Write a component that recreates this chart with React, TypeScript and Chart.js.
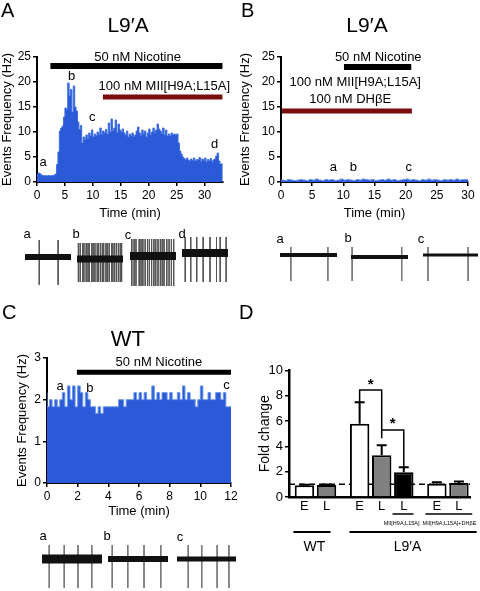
import React, { useEffect, useRef } from "react";
import { Chart, registerables } from "chart.js";
Chart.register(...registerables);

const FONT = "'Liberation Sans', Arial, Helvetica, sans-serif";
Chart.defaults.font.family = FONT;
Chart.defaults.color = "#000";

// ---------------- Panel A data (events frequency, Hz, 0.25-min bins)
const binA = 0.25;
const histA = [
  1.2, 1.6, 1.8, 1.6, 1.3, 1.3, 1.2, 1.3, 1.2, 1.3, 1.2, 1.3, 1.2, 1.4, 1.6, 3.5,
  6.0, 10.2, 10.8, 11.2, 13.0, 14.8, 14.5, 19.8, 17.2, 18.5, 14.0, 19.2, 15.0, 14.2, 12.0, 10.5,
  11.3, 7.8, 9.0, 8.5, 9.4, 8.6, 9.8, 9.2, 10.4, 9.0, 9.6, 9.2, 10.0, 9.4, 10.8, 9.5,
  10.2, 9.8, 10.5, 9.6, 11.8, 10.0, 12.6, 10.2, 10.8, 12.4, 9.9, 11.6, 10.4, 10.0, 10.6, 9.8,
  9.4, 10.2, 9.0, 9.6, 9.2, 9.8, 9.0, 9.4, 10.2, 11.0, 9.8, 9.2, 10.4, 9.6, 10.2, 9.0,
  9.8, 10.6, 9.4, 10.0, 10.8, 9.8, 10.4, 11.6, 10.6, 10.2, 9.6, 10.8, 9.4, 10.4, 9.2, 9.6,
  9.2, 9.8, 9.4, 9.6, 9.4, 9.6, 7.8, 6.2, 5.6, 5.0, 4.7, 4.4, 4.8, 4.4, 4.2, 4.6,
  4.3, 4.8, 4.2, 4.5, 4.4, 4.9, 4.1, 4.6, 4.3, 4.8, 4.0, 4.5, 4.2, 4.7, 4.0, 4.4,
  4.6, 5.2, 5.8, 4.2, 3.6,
];
const nicotineA = [2.4, 33.2];
const miiA = [11.8, 33.2];

// ---------------- Panel B data (0.5-min bins)
const binB = 0.5;
const histB = [
  0.3, 0.4, 0.3, 0.5, 0.4, 0.3, 0.4, 0.5, 0.4, 0.3, 0.5, 0.4, 0.6, 0.4, 0.3, 0.5, 0.4, 0.5, 0.3, 0.4,
  0.6, 0.4, 0.5, 0.4, 0.3, 0.5, 0.4, 0.6, 0.5, 0.4, 0.5, 0.3, 0.4, 0.5, 0.4, 0.6, 0.4, 0.5, 0.3, 0.4,
  0.5, 0.6, 0.4, 0.5, 0.4, 0.3, 0.5, 0.4, 0.6, 0.4, 0.5, 0.4, 0.3, 0.5, 0.4, 0.5, 0.4, 0.6, 0.4, 0.5,
];
const nicotineB = [10.1, 20.9];
const blockersB = [0.15, 21];

// ---------------- Panel C data (10-s bins)
const binC = 1 / 6;
const histC = [
  2.17, 1.83, 2.0, 1.83, 2.0, 1.83, 2.0, 2.17, 1.83, 2.33, 2.0, 2.33,
  1.83, 2.33, 2.17, 1.83, 2.17, 2.0, 1.83, 1.83, 1.67, 1.83, 1.67, 1.83,
  1.83, 1.83, 1.83, 1.83, 1.83, 2.0, 2.0, 1.83, 2.0, 2.0, 2.0, 2.17,
  2.0, 2.17, 2.0, 2.17, 2.0, 2.0, 2.33, 2.0, 2.17, 2.0, 2.17, 2.17,
  2.0, 2.17, 2.0, 2.0, 2.17, 2.0, 2.33, 2.0, 2.17, 2.0, 2.0, 1.83,
  2.0, 2.33, 2.0, 2.0, 2.17, 2.0, 2.0, 2.17, 2.17, 2.0, 2.17, 1.83,
];
const nicotineC = [1.95, 12];

// ---------------- Panel D data (fold change)
const dPos = [0, 1, 2.5, 3.5, 4.5, 6, 7];
const dLabels = ["E", "L", "E", "L", "L", "E", "L"];
const dFold = [0.92, 0.95, 5.8, 3.3, 1.95, 1.05, 1.1];
const dErr = [0.04, 0.04, 1.7, 0.8, 0.4, 0.12, 0.12];
const dBrackets = [
  { from: 2.5, to: 3.5, yFrom: 7.5, yTop: 8.45, yTo: 4.65, star: 9.2 },
  { from: 3.5, to: 4.5, yFrom: 5.3, yTop: 5.3, yTo: 2.4, star: 6.1 },
];
const dSubLabels = ["MII[H9A;L15A]", "MII[H9A;L15A]+DHβE"];
const dSubSpans = [[3.99, 4.94], [5.48, 7.6]];
const dSubCenters = [4.4, 6.57];
const dGroups = ["WT", "L9′A"];
const dGroupSpans = [[-0.5, 1.18], [2.04, 7.8]];
const dGroupCenters = [0.45, 4.67];

// ---------------- Traces (spike times as fraction of sweep)
const trA_a = [0.31, 0.72];
const trA_b = [0.03, 0.07, 0.12, 0.15, 0.2, 0.24, 0.27, 0.32, 0.35, 0.39, 0.44, 0.47, 0.51, 0.55, 0.58, 0.63, 0.66, 0.7, 0.75, 0.78, 0.82, 0.86, 0.9, 0.94, 0.97];
const trA_c = [0.04, 0.09, 0.13, 0.2, 0.24, 0.28, 0.33, 0.38, 0.42, 0.47, 0.52, 0.56, 0.61, 0.66, 0.7, 0.74, 0.8, 0.85, 0.9, 0.95];
const trA_d = [0.07, 0.19, 0.32, 0.46, 0.61, 0.75, 0.83, 0.96];
const trB_a = [0.19, 0.84];
const trB_b = [0.02, 0.89];
const trB_c = [0.09, 0.82];
const trC_a = [0.12, 0.37, 0.6, 0.83];
const trC_b = [0.07, 0.33, 0.6, 0.88];
const trC_c = [0.19, 0.42, 0.68, 0.88];

// ---------------- styles
const BLUE = "#2a5ad8";
const BLUE_EDGE = "#6e97ee";
const BLUE_EDGE_A = "#3e6ce0";
const DARKRED = "#7b0c0c";
const D_FILL = ["#ffffff", "#808080", "#ffffff", "#808080", "#000000", "#ffffff", "#808080"];

type Note = { text: string; x: number; y: number; size: number };

function notesPlugin(notes: Note[]) {
  return {
    id: "notes",
    afterDraw(chart: any) {
      const { ctx, scales } = chart;
      ctx.save();
      ctx.fillStyle = "#000";
      ctx.textAlign = "center";
      ctx.textBaseline = "middle";
      for (const n of notes) {
        ctx.font = `${n.size}px ${FONT}`;
        ctx.fillText(n.text, scales.x.getPixelForValue(n.x), scales.y.getPixelForValue(n.y));
      }
      ctx.restore();
    },
  };
}

function histPoints(vals: number[], bin: number) {
  const pts = vals.map((v, i) => ({ x: i * bin, y: v }));
  pts.push({ x: vals.length * bin, y: vals[vals.length - 1] });
  return pts;
}

function bar(span: number[], level: number, color: string, width: number) {
  return {
    type: "line",
    data: [{ x: span[0], y: level }, { x: span[1], y: level }],
    borderColor: color,
    borderWidth: width,
    pointRadius: 0,
    borderCapStyle: "butt",
    fill: false,
  };
}

function axisX(o: any) {
  return {
    type: "linear",
    min: o.min,
    max: o.max,
    offset: false,
    grid: { display: true, drawOnChartArea: false, drawTicks: true, tickLength: 4, color: "#000", lineWidth: 1.5, offset: false },
    border: { display: true, color: "#000", width: 2 },
    ticks: { stepSize: o.step, color: "#000", font: { size: 12 }, padding: 2, maxRotation: 0, includeBounds: false, autoSkip: false },
    title: { display: true, text: "Time (min)", color: "#000", font: { size: 13 }, padding: { top: 0, bottom: o.titlePad } },
    afterFit: (s: any) => { s.height = o.height; },
  };
}

function axisY(o: any) {
  return {
    min: o.min,
    max: o.max,
    grid: { display: true, drawOnChartArea: false, drawTicks: true, tickLength: 4, color: "#000", lineWidth: 1.5 },
    border: { display: true, color: "#000", width: 2 },
    ticks: { stepSize: o.step, color: "#000", font: { size: 12 }, padding: 2, includeBounds: false },
    title: { display: true, text: o.title, color: "#000", font: { size: 13 }, padding: { top: o.titlePad, bottom: 0 } },
    afterFit: (s: any) => { s.width = o.width; },
  };
}

function histConfig(o: any) {
  return {
    type: "line",
    data: {
      datasets: [
        ...o.bars,
        {
          data: histPoints(o.hist, o.bin),
          stepped: "after",
          fill: "origin",
          backgroundColor: BLUE,
          borderColor: o.edge,
          borderWidth: 1,
          pointRadius: 0,
        },
      ],
    },
    options: {
      responsive: false,
      animation: false,
      events: [],
      layout: { padding: { top: o.top, right: o.right, left: 0, bottom: 0 } },
      plugins: { legend: { display: false }, tooltip: { enabled: false }, title: { display: false } },
      scales: { x: o.x, y: o.y },
    },
    plugins: [notesPlugin(o.notes)],
  };
}

const configA = () =>
  histConfig({
    hist: histA,
    bin: binA,
    edge: BLUE_EDGE_A,
    top: 57,
    right: 17,
    bars: [bar(nicotineA, 23.2, "#000", 6), bar(miiA, 17, DARKRED, 5)],
    x: axisX({ min: 0, max: 33.3, step: 5, height: 40, titlePad: 1 }),
    y: axisY({ min: 0, max: 25, step: 5, width: 37, titlePad: 0, title: "Events Frequency (Hz)" }),
    notes: [
      { text: "L9′A", x: 16.3, y: 31.1, size: 21 },
      { text: "50 nM Nicotine", x: 18, y: 25, size: 13 },
      { text: "100 nM MII[H9A;L15A]", x: 22.8, y: 19.2, size: 13 },
      { text: "a", x: 1.1, y: 3.9, size: 13 },
      { text: "b", x: 6.2, y: 21.1, size: 13 },
      { text: "c", x: 9.9, y: 12.9, size: 13 },
      { text: "d", x: 31.8, y: 7.6, size: 13 },
    ],
  });

const configB = () =>
  histConfig({
    hist: histB,
    bin: binB,
    edge: BLUE_EDGE,
    top: 57,
    right: 12,
    bars: [bar(nicotineB, 23, "#000", 6), bar(blockersB, 14.2, DARKRED, 5)],
    x: axisX({ min: 0, max: 30, step: 5, height: 40, titlePad: 1 }),
    y: axisY({ min: 0, max: 25, step: 5, width: 41, titlePad: -2, title: "Events Frequency (Hz)" }),
    notes: [
      { text: "L9′A", x: 13.8, y: 31.1, size: 21 },
      { text: "50 nM Nicotine", x: 15.6, y: 25, size: 13 },
      { text: "100 nM MII[H9A;L15A]", x: 11.9, y: 19.9, size: 13 },
      { text: "100 nM DHβE", x: 11.1, y: 16.5, size: 13 },
      { text: "a", x: 8.4, y: 3.0, size: 13 },
      { text: "b", x: 11.6, y: 3.0, size: 13 },
      { text: "c", x: 20.5, y: 3.0, size: 13 },
    ],
  });

const configC = () =>
  histConfig({
    hist: histC,
    bin: binC,
    edge: BLUE_EDGE,
    top: 58,
    right: 9,
    bars: [bar(nicotineC, 2.66, "#000", 5)],
    x: axisX({ min: 0, max: 12, step: 2, height: 39, titlePad: 3 }),
    y: axisY({ min: 0, max: 3, step: 1, width: 47, titlePad: 15, title: "Events Frequency (Hz)" }),
    notes: [
      { text: "WT", x: 5.28, y: 3.43, size: 22 },
      { text: "50 nM Nicotine", x: 7.3, y: 2.89, size: 13 },
      { text: "a", x: 0.86, y: 2.31, size: 13 },
      { text: "b", x: 2.8, y: 2.28, size: 13 },
      { text: "c", x: 11.7, y: 2.35, size: 13 },
    ],
  });

const dExtras = {
  id: "dExtras",
  afterDraw(chart: any) {
    const { ctx, scales, chartArea } = chart;
    const px = (v: number) => scales.x.getPixelForValue(v);
    const py = (v: number) => scales.y.getPixelForValue(v);
    ctx.save();
    ctx.strokeStyle = "#000";
    ctx.fillStyle = "#000";
    // error bars
    ctx.lineWidth = 2;
    dPos.forEach((p, i) => {
      const cx = px(p);
      const top = py(dFold[i] + dErr[i]);
      ctx.beginPath();
      ctx.moveTo(cx, py(dFold[i]));
      ctx.lineTo(cx, top);
      ctx.moveTo(cx - 5, top);
      ctx.lineTo(cx + 5, top);
      ctx.stroke();
    });
    // significance brackets
    ctx.lineWidth = 1.5;
    ctx.textAlign = "center";
    ctx.textBaseline = "alphabetic";
    ctx.font = `bold 15px ${FONT}`;
    for (const b of dBrackets) {
      ctx.beginPath();
      ctx.moveTo(px(b.from), py(b.yFrom));
      ctx.lineTo(px(b.from), py(b.yTop));
      ctx.lineTo(px(b.to), py(b.yTop));
      ctx.lineTo(px(b.to), py(b.yTo));
      ctx.stroke();
      ctx.fillText("*", (px(b.from) + px(b.to)) / 2, py(b.star) + 0.57 * 15);
    }
    const bottom = chartArea.bottom;
    // treatment underlines + tiny labels
    ctx.lineWidth = 1.5;
    dSubSpans.forEach((s) => {
      ctx.beginPath();
      ctx.moveTo(px(s[0]), bottom + 17);
      ctx.lineTo(px(s[1]), bottom + 17);
      ctx.stroke();
    });
    ctx.textBaseline = "middle";
    ctx.font = `5.5px ${FONT}`;
    dSubLabels.forEach((t, i) => ctx.fillText(t, px(dSubCenters[i]), bottom + 26));
    // genotype groups
    ctx.lineWidth = 2;
    dGroupSpans.forEach((s) => {
      ctx.beginPath();
      ctx.moveTo(px(s[0]), bottom + 35);
      ctx.lineTo(px(s[1]), bottom + 35);
      ctx.stroke();
    });
    ctx.font = `14px ${FONT}`;
    dGroups.forEach((t, i) => ctx.fillText(t, px(dGroupCenters[i]), bottom + 50));
    ctx.restore();
  },
};

const configD = () => ({
  type: "bar",
  data: {
    datasets: [
      {
        type: "line",
        data: [{ x: -0.7, y: 1 }, { x: 7.5, y: 1 }],
        borderColor: "#000",
        borderWidth: 1.5,
        borderDash: [6, 4],
        pointRadius: 0,
        order: 2,
      },
      {
        type: "bar",
        data: dPos.map((p, i) => ({ x: p, y: dFold[i] })),
        backgroundColor: D_FILL,
        borderColor: "#000",
        borderWidth: 2,
        barPercentage: 0.88,
        categoryPercentage: 1,
        order: 1,
      },
    ],
  },
  options: {
    responsive: false,
    animation: false,
    events: [],
    layout: { padding: { top: 70.5, right: 10, left: 0, bottom: 0 } },
    plugins: { legend: { display: false }, tooltip: { enabled: false } },
    scales: {
      x: {
        type: "linear",
        min: -0.7,
        max: 7.5,
        offset: false,
        grid: { display: false, drawTicks: false, offset: false },
        border: { display: true, color: "#000", width: 2.5 },
        afterBuildTicks: (s: any) => { s.ticks = dPos.map((v) => ({ value: v })); },
        ticks: { color: "#000", font: { size: 13 }, padding: 2, autoSkip: false, maxRotation: 0, callback: (_v: any, i: number) => dLabels[i] },
        afterFit: (s: any) => { s.height = 63; },
      },
      y: {
        min: 0,
        max: 10,
        grid: { display: true, drawOnChartArea: false, drawTicks: true, tickLength: 4, color: "#000", lineWidth: 1.5 },
        border: { display: true, color: "#000", width: 2.5 },
        ticks: { stepSize: 2, color: "#000", font: { size: 13 }, padding: 2 },
        title: { display: true, text: "Fold change", color: "#000", font: { size: 14 }, padding: { top: 17, bottom: 0 } },
        afterFit: (s: any) => { s.width = 49; },
      },
    },
  },
  plugins: [dExtras],
});

function traceConfig(spikes: number[], o: any) {
  const pts: any[] = [];
  spikes.forEach((t) => {
    pts.push({ x: t, y: o.base + o.up }, { x: t, y: o.base - o.down }, { x: t, y: null });
  });
  return () => ({
    type: "line",
    data: {
      datasets: [
        { data: [{ x: 0, y: o.base }, { x: 1, y: o.base }], borderColor: "#111", borderWidth: o.band, pointRadius: 0, borderCapStyle: "butt" },
        { data: pts, borderColor: o.color || "#555", borderWidth: 1, pointRadius: 0, spanGaps: false },
      ],
    },
    options: {
      responsive: false,
      animation: false,
      events: [],
      layout: { padding: 0 },
      plugins: { legend: { display: false }, tooltip: { enabled: false } },
      scales: {
        x: { type: "linear", display: false, min: 0, max: 1 },
        y: { display: false, min: o.min, max: o.max },
      },
    },
  });
}

function ChartCanvas({ x, y, w, h, config }: any) {
  const ref = useRef<HTMLCanvasElement>(null);
  useEffect(() => {
    const c = new Chart(ref.current as HTMLCanvasElement, config() as any);
    return () => c.destroy();
  }, []);
  return <canvas ref={ref} width={w} height={h} style={{ position: "absolute", left: x, top: y, width: w, height: h }} />;
}

function Txt({ x, y, size, children }: any) {
  return (
    <div style={{ position: "absolute", left: x, top: y, fontSize: size, lineHeight: 1, fontFamily: FONT, color: "#000", transform: "translate(-50%,-50%)", whiteSpace: "nowrap" }}>
      {children}
    </div>
  );
}

function Letter({ x, y, children }: any) {
  return (
    <div style={{ position: "absolute", left: x, top: y, fontSize: 20, lineHeight: 1, fontFamily: FONT, color: "#000" }}>{children}</div>
  );
}

export default function App() {
  const tA = { min: -33, max: 27 };
  const tB = { min: -35, max: 25 };
  const tC = { min: -32, max: 21 };
  return (
    <div style={{ position: "absolute", left: 0, top: 0, width: 480, height: 591, background: "#fff", overflow: "hidden" }}>
      <ChartCanvas x={0} y={0} w={240} h={222} config={configA} />
      <ChartCanvas x={240} y={0} w={240} h={222} config={configB} />
      <ChartCanvas x={0} y={300} w={240} h={222} config={configC} />
      <ChartCanvas x={240} y={300} w={240} h={260} config={configD} />

      <ChartCanvas x={25} y={230} w={46} h={60} config={traceConfig(trA_a, { ...tA, base: 0, up: 17, down: 28, band: 6 })} />
      <ChartCanvas x={77} y={230} w={46} h={60} config={traceConfig(trA_b, { ...tA, base: -2, up: 16, down: 23, band: 7 })} />
      <ChartCanvas x={130} y={230} w={46} h={60} config={traceConfig(trA_c, { ...tA, base: 1, up: 17, down: 30, band: 8 })} />
      <ChartCanvas x={182} y={230} w={46} h={60} config={traceConfig(trA_d, { ...tA, base: 4, up: 16, down: 29, band: 8 })} />

      <ChartCanvas x={280} y={230} w={57} h={60} config={traceConfig(trB_a, { ...tB, base: 0, up: 8, down: 26, band: 4, color: "#777" })} />
      <ChartCanvas x={351} y={230} w={57} h={60} config={traceConfig(trB_b, { ...tB, base: -2, up: 10, down: 24, band: 4, color: "#777" })} />
      <ChartCanvas x={423} y={230} w={55} h={60} config={traceConfig(trB_c, { ...tB, base: 0, up: 8, down: 26, band: 3, color: "#777" })} />

      <ChartCanvas x={42} y={538} w={60} h={53} config={traceConfig(trC_a, { ...tC, base: 0, up: 14, down: 29, band: 9, color: "#777" })} />
      <ChartCanvas x={108} y={538} w={60} h={53} config={traceConfig(trC_b, { ...tC, base: 0, up: 14, down: 29, band: 6, color: "#777" })} />
      <ChartCanvas x={177} y={538} w={59} h={53} config={traceConfig(trC_c, { ...tC, base: 0, up: 14, down: 29, band: 5, color: "#777" })} />

      <Txt x={27} y={233} size={13}>a</Txt>
      <Txt x={76} y={233} size={13}>b</Txt>
      <Txt x={128} y={234} size={13}>c</Txt>
      <Txt x={182} y={233} size={13}>d</Txt>
      <Txt x={280} y={238} size={13}>a</Txt>
      <Txt x={348} y={237} size={13}>b</Txt>
      <Txt x={421} y={238} size={13}>c</Txt>
      <Txt x={43} y={535} size={13}>a</Txt>
      <Txt x={107} y={535} size={13}>b</Txt>
      <Txt x={180} y={536} size={13}>c</Txt>

      <Letter x={1} y={0}>A</Letter>
      <Letter x={241} y={0}>B</Letter>
      <Letter x={2} y={302}>C</Letter>
      <Letter x={239} y={302}>D</Letter>
    </div>
  );
}
